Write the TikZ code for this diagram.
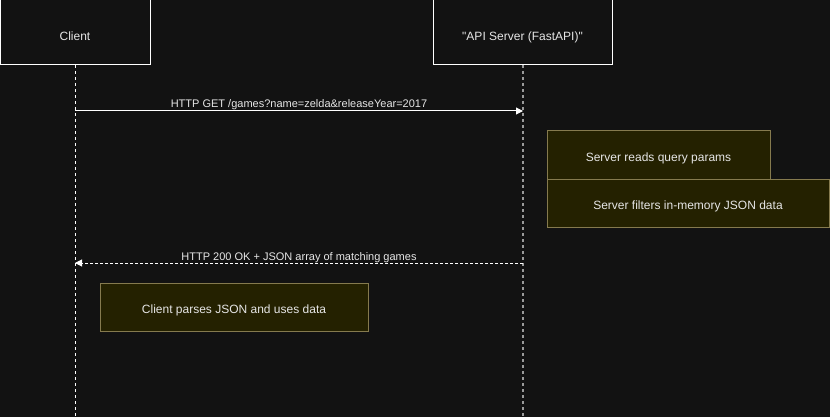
\documentclass[tikz,border=0pt]{standalone}
\usepackage{fontspec}
\setmainfont{Liberation Sans}[Ligatures=TeXOff]
\usetikzlibrary{arrows.meta}
\definecolor{bg}{HTML}{121212}
\definecolor{notefill}{HTML}{242100}
\definecolor{noteline}{HTML}{857A4E}
\definecolor{txt}{HTML}{E6E6E6}
\definecolor{lifegrey}{HTML}{9A9A9A}
\tikzset{
  actor/.style={draw=white, line width=1pt, fill=bg, text=txt, font=\fontsize{12}{14}\selectfont, inner sep=0pt, text height=17pt, text depth=0pt},
  note/.style={draw=noteline, line width=1pt, fill=notefill, text=txt, font=\fontsize{12}{14}\selectfont, inner sep=0pt, text height=13pt, text depth=0pt},
  msg/.style={white, line width=1pt, -{Triangle[length=7pt,width=7pt]}},
  lbl/.style={text=txt, font=\fontsize{11}{13}\selectfont, inner sep=0pt, anchor=base},
}
\begin{document}
\begin{tikzpicture}[x=1pt,y=-1pt]
\fill[bg] (0,0) rectangle (830,417);
\useasboundingbox (0,0) rectangle (830,417);
% lifelines
\coordinate (cl0) at (75,65);
\coordinate (cl1) at (75,417);
\coordinate (sl0) at (523,65);
\coordinate (sl1) at (523,417);
\draw[white, line width=1pt, dash pattern=on 3pt off 3pt] (cl0) -- (cl1);
\draw[lifegrey, line width=1.2pt, dash pattern=on 3pt off 3pt] (sl0) -- (sl1);
% actors
\node[actor, minimum width=150pt, minimum height=65pt] (client) at (75,32.5) {Client};
\node[actor, minimum width=179pt, minimum height=65pt] (server) at (522.5,32.5) {"API Server (FastAPI)"};
% message 1
\coordinate (m1a) at (75,111);
\coordinate (m1b) at (523,111);
\draw[msg] (m1a) -- (m1b);
\node[lbl] (l1) at (299,108) {HTTP GET /games?name=zelda\&releaseYear=2017};
% notes
\node[note, minimum width=223pt, minimum height=48pt] (n1) at (658.5,155) {Server reads query params};
\node[note, minimum width=282pt, minimum height=48pt] (n2) at (688,203) {Server filters in-memory JSON data};
% message 2
\coordinate (m2a) at (523,263);
\coordinate (m2b) at (75,263);
\draw[msg, dash pattern=on 3pt off 2pt] (m2a) -- (m2b);
\node[lbl] (l2) at (299,260) {HTTP 200 OK + JSON array of matching games};
% note 3
\node[note, minimum width=268pt, minimum height=48pt] (n3) at (234,307) {Client parses JSON and uses data};
\end{tikzpicture}
\end{document}
